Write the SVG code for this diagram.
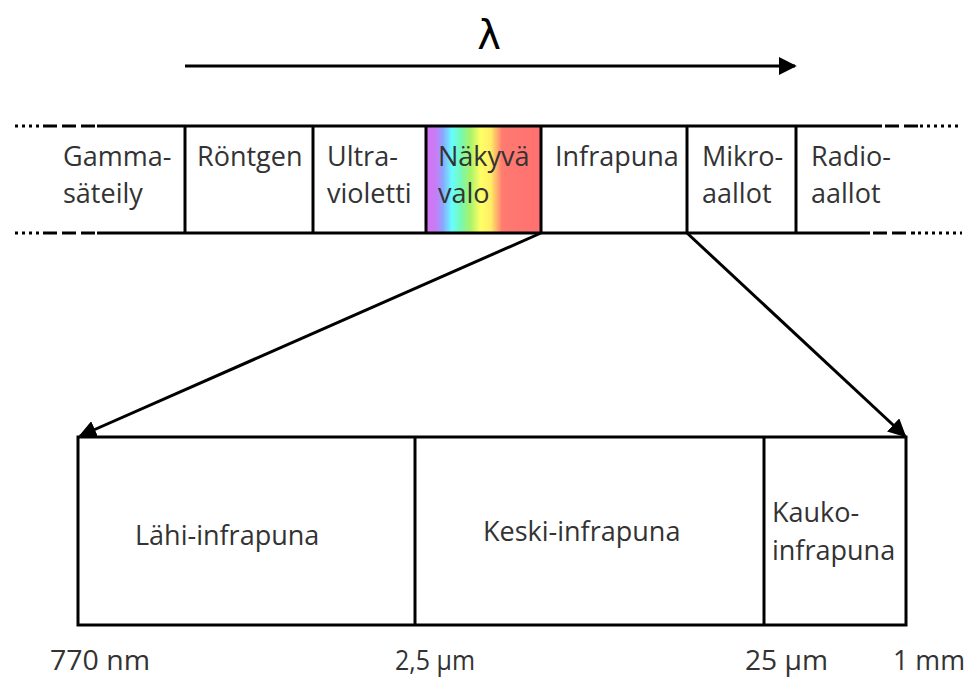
<svg xmlns="http://www.w3.org/2000/svg" width="971" height="679" viewBox="0 0 971 679">
  <style>
    .t { font-family: "Open Sans", "Noto Sans", sans-serif; font-size: 27px; fill: #333333; }
    .ax { font-family: "Open Sans", "Noto Sans", sans-serif; font-size: 28px; fill: #333333; }
    .ln { stroke: #000; stroke-width: 3; fill: none; }
    .dot { stroke: #000; stroke-width: 3; fill: none; stroke-dasharray: 3 4; }
    .dash { stroke: #000; stroke-width: 3; fill: none; stroke-dasharray: 14 5; }
  </style>
  <defs>
    <linearGradient id="spectrum" x1="0" y1="0" x2="1" y2="0">
      <stop offset="0" stop-color="#d475f2"/>
      <stop offset="0.08" stop-color="#c77cf5"/>
      <stop offset="0.14" stop-color="#8aa8ff"/>
      <stop offset="0.22" stop-color="#66ffff"/>
      <stop offset="0.3" stop-color="#77f7b0"/>
      <stop offset="0.38" stop-color="#a8f36a"/>
      <stop offset="0.47" stop-color="#ffff66"/>
      <stop offset="0.56" stop-color="#ffee66"/>
      <stop offset="0.66" stop-color="#ff7a70"/>
      <stop offset="1" stop-color="#ff7070"/>
    </linearGradient>
    <marker id="head" viewBox="0 0 10 10" refX="9" refY="5" markerWidth="6" markerHeight="6" markerUnits="strokeWidth" orient="auto">
      <path d="M0,0 L10,5 L0,10 Z" fill="#000"/>
    </marker>
  </defs>

  <!-- wavelength direction -->
  <g id="lambda">
    <text x="489" y="49" text-anchor="middle" font-family="'DejaVu Sans', sans-serif" font-size="40" fill="#000">λ</text>
    <line class="ln" x1="185" y1="66" x2="795" y2="66" marker-end="url(#head)"/>
  </g>

  <!-- spectrum band -->
  <g id="band">
    <rect x="427" y="127" width="114" height="106" fill="url(#spectrum)"/>
    <line class="dot" x1="15" y1="126" x2="40" y2="126"/>
    <line class="dash" x1="43" y1="126" x2="97" y2="126"/>
    <line class="ln" x1="97" y1="126" x2="882" y2="126"/>
    <line class="dash" x1="885" y1="126" x2="918" y2="126"/>
    <line class="dot" x1="920" y1="126" x2="962" y2="126"/>
    <line class="dot" x1="15" y1="233" x2="40" y2="233"/>
    <line class="dash" x1="43" y1="233" x2="97" y2="233"/>
    <line class="ln" x1="97" y1="233" x2="870" y2="233"/>
    <line class="dash" x1="873" y1="233" x2="915" y2="233"/>
    <line class="dot" x1="918" y1="233" x2="962" y2="233"/>
    <line class="ln" x1="185" y1="126" x2="185" y2="233"/>
    <line class="ln" x1="313" y1="126" x2="313" y2="233"/>
    <line class="ln" x1="426" y1="126" x2="426" y2="233"/>
    <line class="ln" x1="541" y1="126" x2="541" y2="233"/>
    <line class="ln" x1="687" y1="126" x2="687" y2="233"/>
    <line class="ln" x1="796" y1="126" x2="796" y2="233"/>
  </g>

  <g id="gamma"><text class="t" x="63" y="166">Gamma-</text><text class="t" x="63" y="203">säteily</text></g>
  <g id="rontgen"><text class="t" x="197" y="166">Röntgen</text></g>
  <g id="uv"><text class="t" x="327" y="166">Ultra-</text><text class="t" x="327" y="203">violetti</text></g>
  <g id="visible"><text class="t" x="438" y="166" fill="#222">Näkyvä</text><text class="t" x="438" y="203" fill="#222">valo</text></g>
  <g id="ir"><text class="t" x="555" y="166">Infrapuna</text></g>
  <g id="micro"><text class="t" x="702" y="166">Mikro-</text><text class="t" x="702" y="203">aallot</text></g>
  <g id="radio"><text class="t" x="811" y="166">Radio-</text><text class="t" x="811" y="203">aallot</text></g>

  <!-- zoom connectors -->
  <g id="connectors">
    <line class="ln" x1="541" y1="233" x2="80" y2="436" marker-end="url(#head)"/>
    <line class="ln" x1="687" y1="233" x2="905" y2="436" marker-end="url(#head)"/>
  </g>

  <!-- infrared detail -->
  <g id="ir-detail">
    <rect class="ln" x="78" y="437" width="828" height="188"/>
    <line class="ln" x1="415" y1="437" x2="415" y2="625"/>
    <line class="ln" x1="764" y1="437" x2="764" y2="625"/>
  </g>
  <g id="near"><text class="t" x="135" y="545">Lähi-infrapuna</text></g>
  <g id="mid"><text class="t" x="483" y="541">Keski-infrapuna</text></g>
  <g id="far"><text class="t" x="772" y="522">Kauko-</text><text class="t" x="772" y="560">infrapuna</text></g>

  <!-- wavelength limits -->
  <g id="limits">
    <text class="ax" x="50" y="670" textLength="100" lengthAdjust="spacingAndGlyphs">770 nm</text>
    <text class="ax" x="395" y="670" textLength="80" lengthAdjust="spacingAndGlyphs">2,5 µm</text>
    <text class="ax" x="745" y="670" textLength="83" lengthAdjust="spacingAndGlyphs">25 µm</text>
    <text class="ax" x="893" y="670" textLength="72" lengthAdjust="spacingAndGlyphs">1 mm</text>
  </g>
</svg>
